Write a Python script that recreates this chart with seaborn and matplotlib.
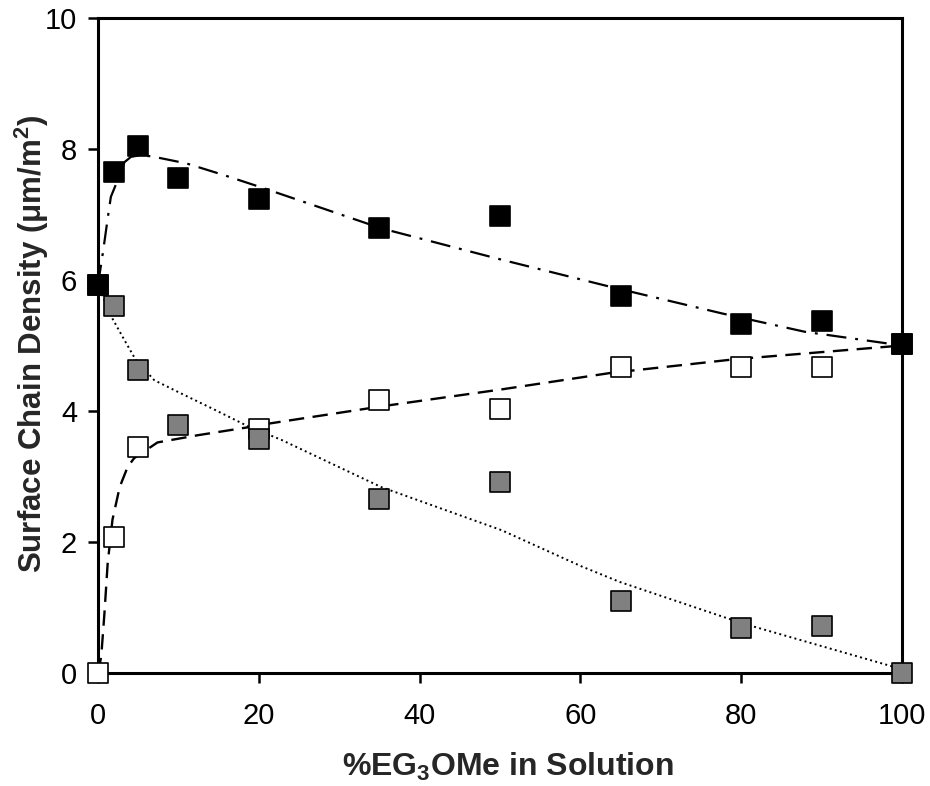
import matplotlib
matplotlib.use("Agg")
import matplotlib.pyplot as plt
import seaborn as sns
import pandas as pd

x_black = [0, 2, 5, 10, 20, 35, 50, 65, 80, 90, 100]
y_black = [5.93, 7.65, 8.05, 7.55, 7.23, 6.80, 6.97, 5.75, 5.33, 5.37, 5.03]

x_white = [0, 2, 5, 20, 35, 50, 65, 80, 90, 100]
y_white = [0.0, 2.07, 3.45, 3.73, 4.17, 4.03, 4.67, 4.67, 4.67, 5.03]

x_gray = [0, 2, 5, 10, 20, 35, 50, 65, 80, 90, 100]
y_gray = [5.93, 5.60, 4.63, 3.78, 3.58, 2.65, 2.92, 1.10, 0.68, 0.72, 0.0]

# ---- fitted trend curves ----
fx_black = [0, 0.6, 1.3, 1.6, 2.2, 3.3, 4.1, 5, 6.6, 11, 15.7, 20.4, 35.2, 50.2, 63.6, 77.6, 87.9, 100]
fy_black = [5.93, 6.41, 7.02, 7.27, 7.45, 7.80, 7.88, 7.90, 7.89, 7.78, 7.60, 7.41, 6.79, 6.31, 5.90, 5.49, 5.21, 5.00]

fx_white = [0, 0.4, 0.8, 1.2, 1.8, 2.7, 3.7, 4.5, 7.4, 12.4, 18.6, 20.3, 35.2, 50.2, 63.7, 79.2, 100]
fy_white = [0.0, 0.25, 0.91, 1.67, 2.34, 2.84, 3.15, 3.28, 3.52, 3.63, 3.75, 3.79, 4.07, 4.33, 4.58, 4.79, 5.00]

fx_gray = [0, 0.8, 1.8, 3.3, 4.7, 7.0, 10.3, 14.5, 18.6, 22.8, 35.2, 50.2, 60.1, 64.9, 80.1, 98.8, 100]
fy_gray = [5.93, 5.69, 5.41, 5.08, 4.78, 4.47, 4.27, 4.02, 3.77, 3.56, 2.84, 2.18, 1.63, 1.39, 0.76, 0.10, 0.0]

x_ticks = [0, 20, 40, 60, 80, 100]
y_ticks = [0, 2, 4, 6, 8, 10]
x_label = "%EG$_3$OMe in Solution"
y_label = "Surface Chain Density (\u03bcm/m$^2$)"

sns.set_theme(style="white")
plt.rcParams["font.family"] = ["Liberation Sans", "DejaVu Sans"]
plt.rcParams["mathtext.default"] = "regular"

fig = plt.figure(figsize=(9.3, 7.86), dpi=100)
ax = fig.add_axes([98 / 930, 113 / 786, 804 / 930, 655 / 786])

# trend lines
sns.lineplot(x=fx_white, y=fy_white, ax=ax, color="black", lw=1.7,
             estimator=None, sort=False, linestyle=(0, (6.5, 3.6)))
sns.lineplot(x=fx_gray, y=fy_gray, ax=ax, color="black", lw=1.4,
             estimator=None, sort=False, linestyle=(0, (1.0, 1.7)))
sns.lineplot(x=fx_black, y=fy_black, ax=ax, color="black", lw=1.6,
             estimator=None, sort=False, linestyle=(0, (9.0, 4.0, 1.3, 4.0)))

# markers
kw = dict(marker="s", s=205, linewidth=1.2, edgecolor="black", ax=ax, clip_on=False, zorder=5)
sns.scatterplot(x=x_white, y=y_white, color="white", **kw)
sns.scatterplot(x=x_gray, y=y_gray, color="#808080", **kw)
sns.scatterplot(x=x_black, y=y_black, color="black", **kw)

ax.set_xlim(0, 100)
ax.set_ylim(0, 10)
ax.set_xticks(x_ticks)
ax.set_yticks(y_ticks)
ax.tick_params(axis="both", which="major", direction="out", length=7, width=1.8,
               labelsize=21, colors="black", pad=8, bottom=True, left=True)
ax.tick_params(axis="x", pad=14)
for sp in ax.spines.values():
    sp.set_linewidth(2.2)
    sp.set_color("black")

ax.set_xlabel(x_label, fontsize=23, fontweight="bold")
ax.set_ylabel(y_label, fontsize=22.5, fontweight="bold")
ax.xaxis.set_label_coords(0.51, -0.1435)
ax.xaxis.label.set_va("center")
ax.yaxis.set_label_coords(-0.082, 0.502)
ax.yaxis.label.set_va("center")
ax.yaxis.label.set_ha("center")

fig.savefig("out.png", dpi=100, facecolor="white")
